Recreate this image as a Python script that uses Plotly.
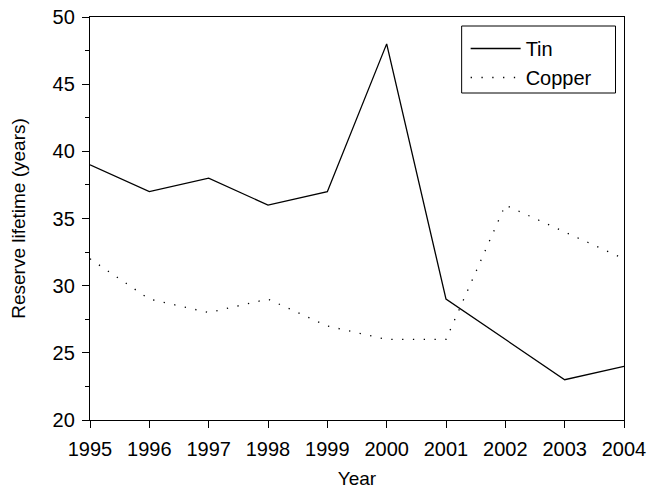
import plotly.graph_objects as go

years = [1995, 1996, 1997, 1998, 1999, 2000, 2001, 2002, 2003, 2004]
tin = [39, 37, 38, 36, 37, 48, 29, 26, 23, 24]
copper = [32, 29, 28, 29, 27, 26, 26, 36, 34, 32]
x_ticks = [1995, 1996, 1997, 1998, 1999, 2000, 2001, 2002, 2003, 2004]
y_ticks = [20, 25, 30, 35, 40, 45, 50]

FONT = "Liberation Sans, Arial, Helvetica, sans-serif"
FS = 20

# plot area in px (for layout only)
L, R, T, B = 90, 624.5, 17, 420
PW, PH = R - L, B - T

fig = go.Figure()
fig.add_trace(go.Scatter(x=years, y=tin, mode="lines", name="Tin",
                         line=dict(color="black", width=1.3)))
fig.add_trace(go.Scatter(x=years, y=copper, mode="lines", name="Copper",
                         line=dict(color="black", width=1.3, dash="1.3px,9.5px")))

axis_common = dict(showline=True, linecolor="black", linewidth=1.3, mirror=True,
                   ticks="outside", ticklen=7, tickwidth=1.3, tickcolor="black",
                   showgrid=False, zeroline=False, automargin=False,
                   tickfont=dict(family=FONT, size=FS, color="black"))

fig.update_xaxes(range=[1995, 2004], tickvals=x_ticks,
                 ticktext=[str(v) for v in x_ticks], ticklabelstandoff=4,
                 title=dict(text="Year", font=dict(family=FONT, size=FS - 1, color="black"), standoff=12),
                 **axis_common)
fig.update_yaxes(range=[20, 50], tickvals=y_ticks, ticklabelstandoff=3,
                 title=dict(text="Reserve lifetime (years)", font=dict(family=FONT, size=FS - 1, color="black"), standoff=21),
                 minor=dict(ticks="outside", ticklen=4, tickwidth=1.3, tickcolor="black", dtick=2.5, showgrid=False),
                 **axis_common)

fig.add_shape(type="rect", xref="paper", yref="paper",
              x0=(462 - L) / PW, x1=(616 - L) / PW,
              y0=(B - 93) / PH, y1=(B - 26) / PH,
              line=dict(color="black", width=1), fillcolor="rgba(0,0,0,0)", layer="above")

fig.update_layout(
    width=651, height=489,
    margin=dict(l=L, r=651 - R, t=T, b=489 - B, autoexpand=False),
    plot_bgcolor="white", paper_bgcolor="white",
    font=dict(family=FONT, size=FS, color="black"),
    legend=dict(x=(466 - L) / PW, y=(B - 29) / PH, xanchor="left", yanchor="top",
                borderwidth=0, bgcolor="rgba(0,0,0,0)",
                font=dict(family=FONT, size=FS, color="black"),
                itemwidth=50, tracegroupgap=2),
    showlegend=True,
)

fig.write_html("out.html", config={"displayModeBar": False},
               post_script="document.body.style.margin='0';")
